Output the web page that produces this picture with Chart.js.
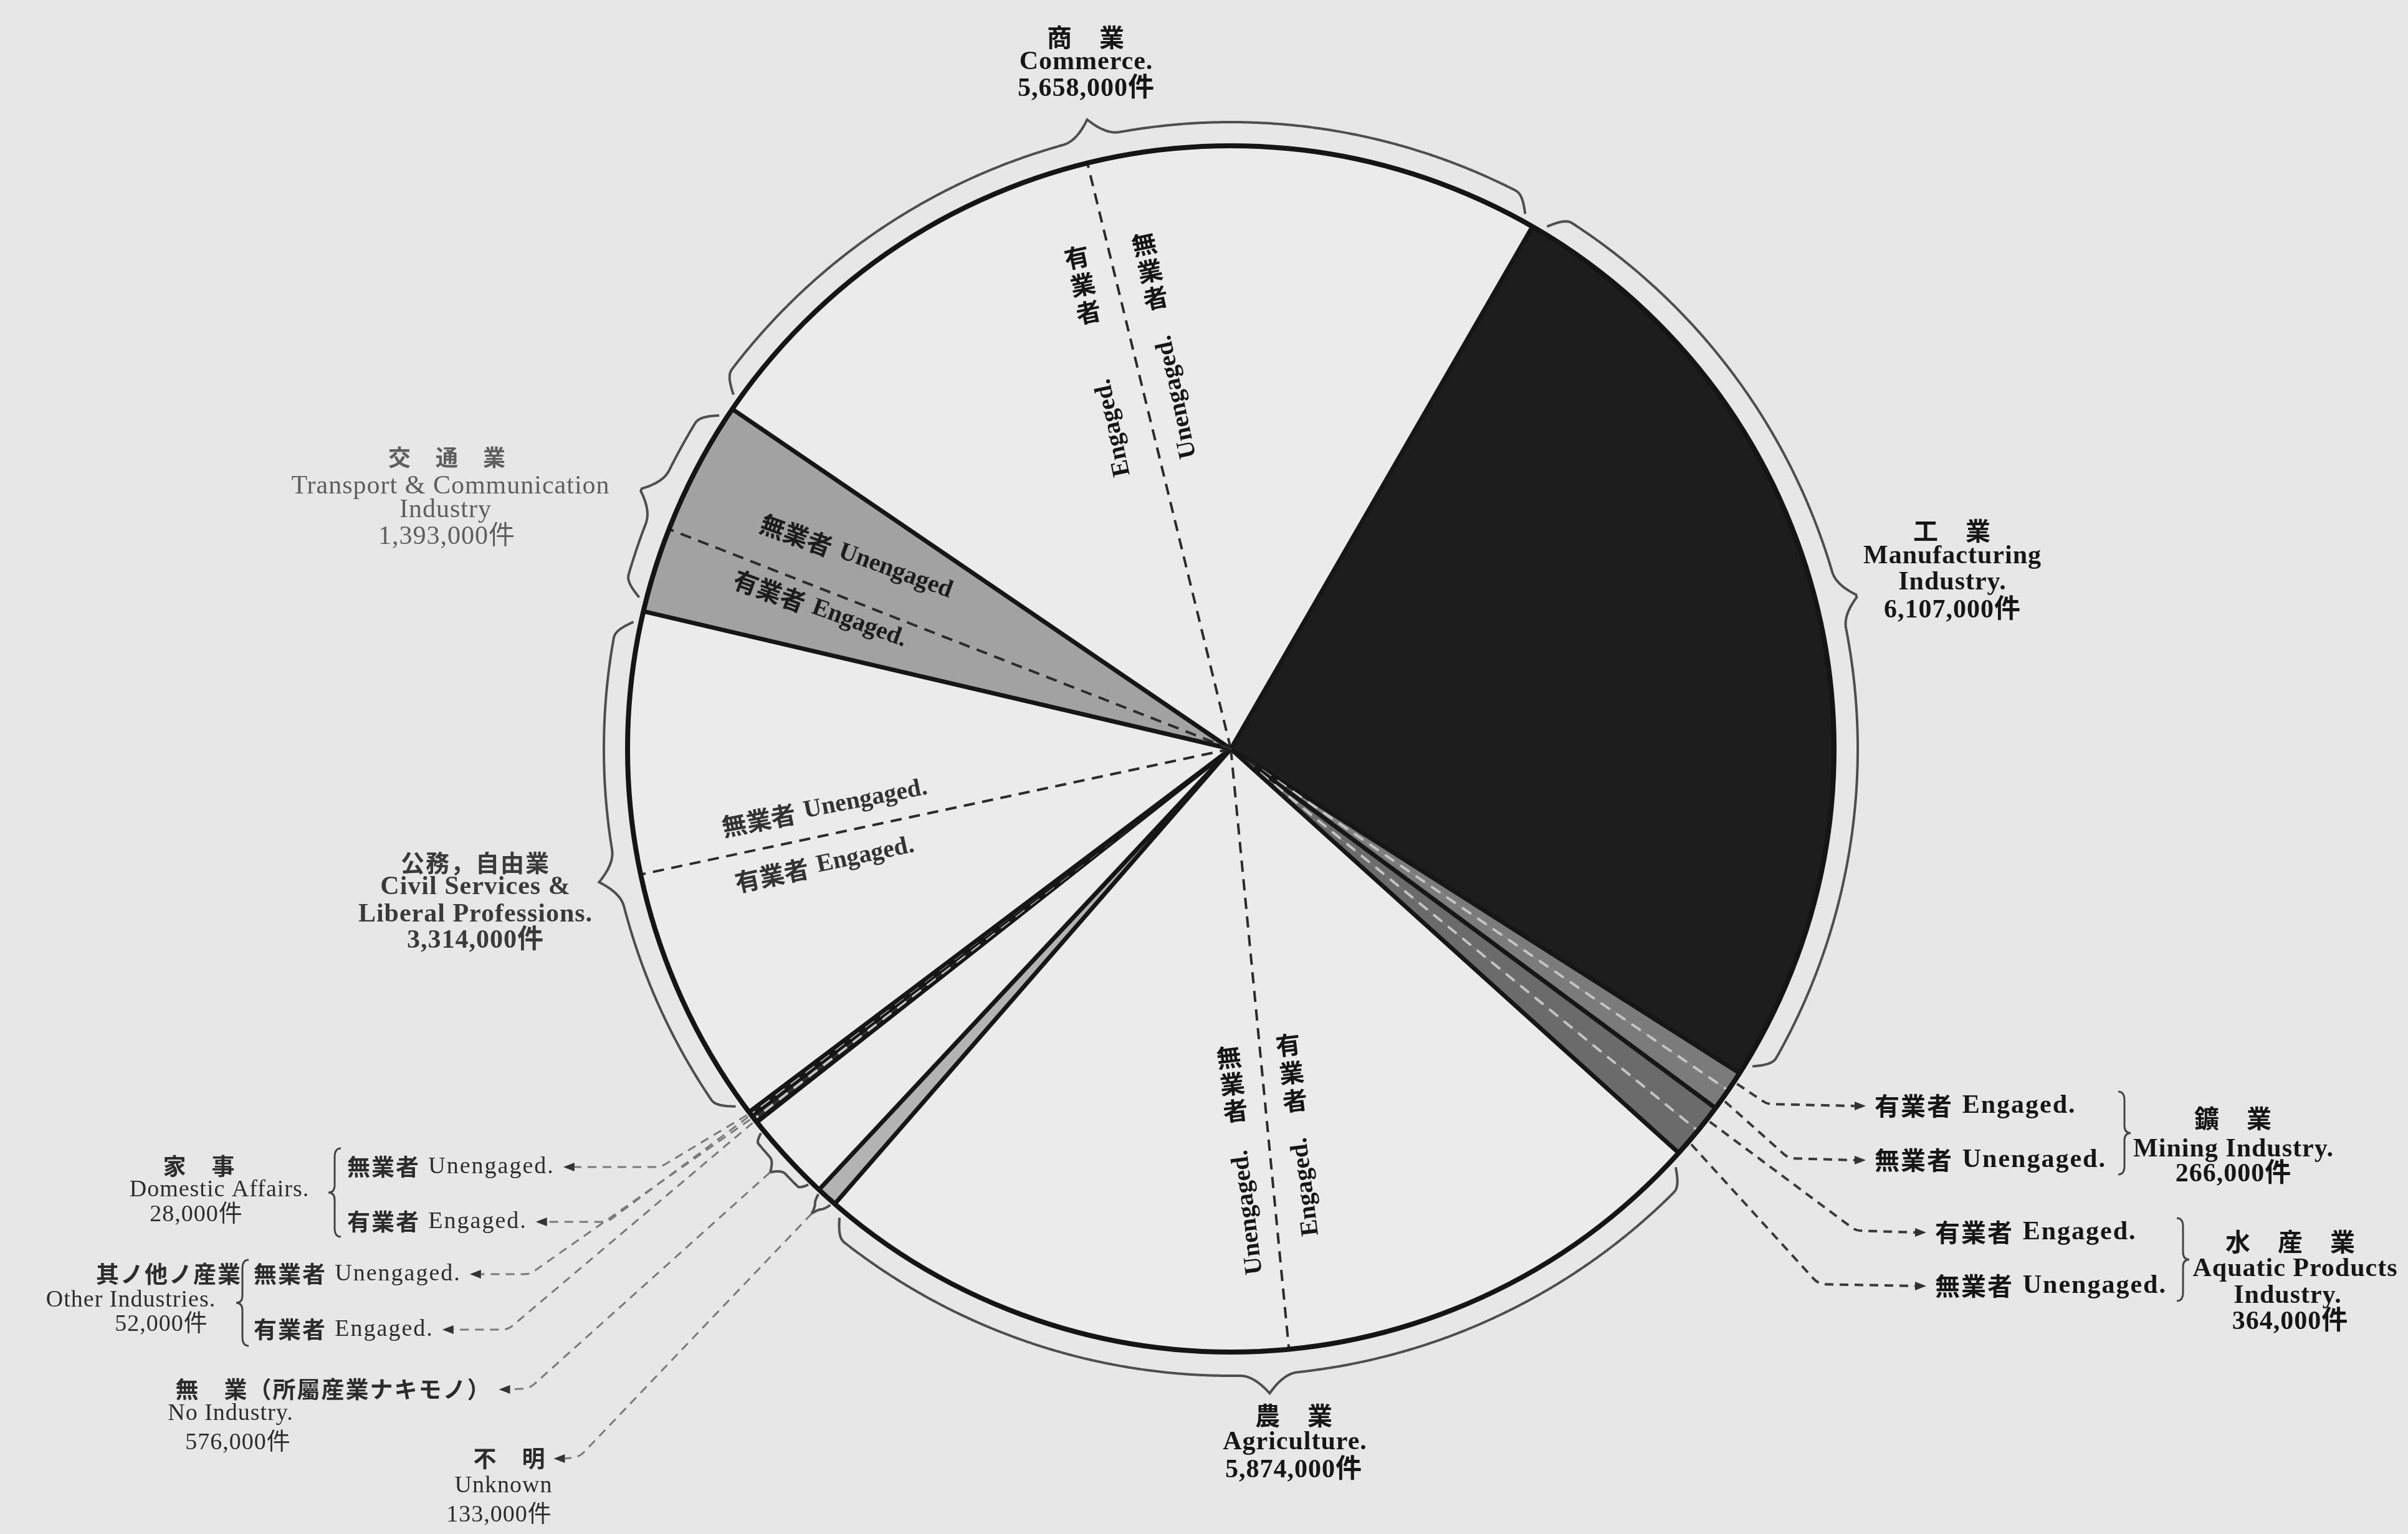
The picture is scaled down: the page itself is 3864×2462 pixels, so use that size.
<!DOCTYPE html>
<html>
<head>
<meta charset="utf-8">
<script src="https://cdn.jsdelivr.net/npm/chart.js@4.4.1/dist/chart.umd.min.js"></script>
<style>
  html, body { margin: 0; padding: 0; background: #e7e7e7; }
  canvas { display: block; }
</style>
</head>
<body>
<canvas id="pie-chart" width="3864" height="2462" style="width:3864px;height:2462px"></canvas>
<script>
// population by industry, thousands of 件, clockwise from Commerce
const categoryEn = ["Commerce", "Manufacturing Industry", "Mining Industry", "Aquatic Products Industry", "Agriculture", "Unknown", "No Industry", "Other Industries", "Domestic Affairs", "Civil Services & Liberal Professions", "Transport & Communication Industry"];
const categoryJa = ["商　業", "工　業", "鑛　業", "水　産　業", "農　業", "不　明", "無　業（所屬産業ナキモノ）", "其ノ他ノ産業", "家　事", "公務，自由業", "交　通　業"];
const labelLinesEn = [["Commerce."], ["Manufacturing", "Industry."], ["Mining Industry."], ["Aquatic Products", "Industry."], ["Agriculture."], ["Unknown"], ["No Industry."], ["Other Industries."], ["Domestic Affairs."], ["Civil Services &", "Liberal Professions."], ["Transport & Communication", "Industry"]];
const totals = [5658, 6107, 266, 364, 5874, 133, 576, 52, 28, 3314, 1393];
const engaged = [2770, null, 130, 180, 2800, null, null, 26, 14, 1650, 540];
const unengaged = [2888, null, 136, 184, 3074, null, null, 26, 14, 1664, 853];
const partText = { engaged: ["有業者", "Engaged."], unengaged: ["無業者", "Unengaged."] };

// styles
const fills = ["#ebebeb", "#1d1d1d", "#7b7b7b", "#6b6b6b", "#ebebeb", "#b3b3b3", "#ebebeb", "#242424", "#242424", "#ebebeb", "#a2a2a2"];
const darkFill = [false, true, true, true, false, false, false, true, true, false, false];
const EN = '"Liberation Serif", "Noto Sans CJK JP", serif';
const CJK = '"Noto Sans CJK JP", sans-serif';
const deg = Math.PI / 180;

// split categories into engaged / unengaged slices
const sliceValues = [];
const sliceCat = [];
const sliceParts = [];
const sliceLabels = [];
categoryEn.forEach((name, i) => {
  if (engaged[i] != null) {
    sliceValues.push(engaged[i], unengaged[i]);
    sliceCat.push(i, i);
    sliceParts.push("engaged", "unengaged");
    sliceLabels.push(name + " Engaged", name + " Unengaged");
  } else {
    sliceValues.push(totals[i]);
    sliceCat.push(i);
    sliceParts.push(null);
    sliceLabels.push(name);
  }
});

// label layout
const bigStyle = { weight: "bold", size: 42, ja: 40, color: "#161616" };
const smallStyle = { weight: "normal", size: 38, ja: 37, color: "#2c2c2c" };
const titleLayout = {
  0: { lines: [[1743, 60], [1743, 100], [1743, 143]], st: bigStyle },
  1: { lines: [[3133, 852], [3133, 893], [3133, 935], [3133, 980]], st: bigStyle },
  2: { lines: [[3584, 1795], [3584, 1845], [3584, 1885]], st: bigStyle },
  3: { lines: [[3676, 1993], [3683, 2037], [3671, 2080], [3675, 2122]], st: bigStyle },
  4: { lines: [[2077, 2272], [2078, 2315], [2076, 2360]], st: bigStyle },
  5: { lines: [[818, 2341], [808, 2385], [801, 2432]], st: smallStyle },
  6: { lines: [[535, 2230], [370, 2269], [382, 2316]], st: smallStyle },
  7: { lines: [[271, 2045], [210, 2087], [259, 2126]], st: smallStyle },
  8: { lines: [[320, 1872], [352, 1910], [315, 1950]], st: smallStyle },
  9: { lines: [[763, 1385], [763, 1424], [763, 1468], [763, 1510]], st: { weight: "bold", size: 42, ja: 38, color: "#3a3a3a" } },
  10: { lines: [[718, 734], [723, 781], [715, 819], [717, 862]], st: { weight: "normal", size: 42, ja: 36, color: "#5e5e5e" } },
};
const partLayout = [
  { cat: 2, part: "engaged", x: 3008, y: 1775, side: 1, corner: [2836, 1772], st: bigStyle },
  { cat: 2, part: "unengaged", x: 3008, y: 1862, side: 1, corner: [2870, 1859], st: bigStyle },
  { cat: 3, part: "engaged", x: 3105, y: 1978, side: 1, corner: [2978, 1975], st: bigStyle },
  { cat: 3, part: "unengaged", x: 3105, y: 2064, side: 1, corner: [2918, 2061], st: bigStyle },
  { cat: 8, part: "unengaged", x: 557, y: 1873, side: -1, corner: [1060, 1873], st: smallStyle },
  { cat: 8, part: "engaged", x: 557, y: 1961, side: -1, corner: [975, 1961], st: smallStyle },
  { cat: 7, part: "unengaged", x: 407, y: 2045, side: -1, corner: [850, 2045], st: smallStyle },
  { cat: 7, part: "engaged", x: 407, y: 2134, side: -1, corner: [815, 2134], st: smallStyle },
];
const groupBraces = [[3409, 1752, 1885, 1], [3503, 1955, 2088, 1], [537, 1843, 1985, -1], [389, 2022, 2160, -1]];
const catLeaders = [
  { cat: 6, y: 2230, corner: [850, 2228] },
  { cat: 5, y: 2341, corner: [930, 2338] },
];
const inPieRotated = [
  { cat: 10, part: "unengaged", x: 1374, y: 894, rot: 20, color: "#1c1c1c", text: "Unengaged" },
  { cat: 10, part: "engaged", x: 1316, y: 978, rot: 20, color: "#1c1c1c" },
  { cat: 9, part: "unengaged", x: 1323, y: 1296, rot: -11, color: "#333" },
  { cat: 9, part: "engaged", x: 1323, y: 1387, rot: -12, color: "#333" },
];
const inPieColumns = [
  { cat: 0, part: "engaged", x: 1728, y: 413, tilt: 12, step: 45, gap: 200 },
  { cat: 0, part: "unengaged", x: 1836, y: 392, tilt: 12, step: 44, gap: 150 },
  { cat: 4, part: "unengaged", x: 1972, y: 1697, tilt: 7, step: 43, gap: 150 },
  { cat: 4, part: "engaged", x: 2067, y: 1677, tilt: 7, step: 45, gap: 150 },
];
const braceCats = [0, 1, 4, 5, 6, 9, 10];

function radialBrace(ctx, cx, cy, R, a1, a2, o) {
  const L = (a2 - a1) * R;
  const h = Math.min(o.hook, L / 4);
  const h2 = Math.min(o.cusp, L / 3);
  const n = Math.max(40, Math.round(L / 4));
  ctx.beginPath();
  for (let k = 0; k <= n; k++) {
    const s = (L * k) / n;
    const e = Math.min(s, L - s);
    let off = o.base;
    if (e < h) off = o.end + (o.base - o.end) * Math.sin((Math.PI / 2) * (e / h));
    const d = Math.abs(s - L / 2);
    if (d < h2) off += o.tip * Math.pow(1 - d / h2, 2);
    const a = a1 + s / R;
    const px = cx + (R + off) * Math.cos(a);
    const py = cy + (R + off) * Math.sin(a);
    if (k === 0) ctx.moveTo(px, py);
    else ctx.lineTo(px, py);
  }
  ctx.stroke();
}

function vBrace(ctx, x, y1, y2, dir) {
  const ym = (y1 + y2) / 2;
  const w = 10 * dir;
  ctx.beginPath();
  ctx.moveTo(x - w, y1);
  ctx.quadraticCurveTo(x, y1, x, y1 + 14);
  ctx.lineTo(x, ym - 12);
  ctx.quadraticCurveTo(x, ym, x + w, ym);
  ctx.quadraticCurveTo(x, ym, x, ym + 12);
  ctx.lineTo(x, y2 - 14);
  ctx.quadraticCurveTo(x, y2, x - w, y2);
  ctx.stroke();
}

function leader(ctx, pts) {
  ctx.beginPath();
  ctx.moveTo(pts[0][0], pts[0][1]);
  for (let k = 1; k < pts.length - 1; k++) {
    ctx.arcTo(pts[k][0], pts[k][1], pts[k + 1][0], pts[k + 1][1], 26);
  }
  ctx.lineTo(pts[pts.length - 1][0], pts[pts.length - 1][1]);
  ctx.stroke();
}

function arrowHead(ctx, x, y, dir) {
  ctx.beginPath();
  ctx.moveTo(x, y);
  ctx.lineTo(x - dir * 18, y - 7);
  ctx.lineTo(x - dir * 18, y + 7);
  ctx.closePath();
  ctx.fill();
}

function drawPartLabel(ctx, x, y, cjk, en, st) {
  ctx.textAlign = "left";
  ctx.textBaseline = "middle";
  ctx.fillStyle = st.color;
  ctx.letterSpacing = "2px";
  ctx.font = `bold ${st.ja}px ${CJK}`;
  ctx.fillText(cjk, x, y);
  const w = ctx.measureText(cjk).width + st.size * 0.35;
  ctx.font = `${st.weight} ${st.size}px ${EN}`;
  ctx.fillText(en, x + w, y);
  const end = x + w + ctx.measureText(en).width;
  ctx.letterSpacing = "0px";
  return end;
}

const pieOverlay = {
  id: "pieOverlay",
  afterDatasetsDraw(chart) {
    const ctx = chart.ctx;
    const arcs = chart.getDatasetMeta(0).data;
    const { x: cx, y: cy, outerRadius: R } = arcs[0].getProps(["x", "y", "outerRadius"], true);
    const pt = (a, r) => [cx + r * Math.cos(a), cy + r * Math.sin(a)];

    const ranges = categoryEn.map(() => ({ start: null, end: null }));
    const partMid = {};
    arcs.forEach((arc, i) => {
      const { startAngle, endAngle } = arc.getProps(["startAngle", "endAngle"], true);
      const c = sliceCat[i];
      if (ranges[c].start === null) ranges[c].start = startAngle;
      ranges[c].end = endAngle;
      if (sliceParts[i]) partMid[c + ":" + sliceParts[i]] = (startAngle + endAngle) / 2;
    });

    ctx.save();
    // radial boundaries: solid between industries, dashed between engaged / unengaged
    arcs.forEach((arc, i) => {
      const { startAngle } = arc.getProps(["startAngle"], true);
      const [ex, ey] = pt(startAngle, R);
      ctx.beginPath();
      ctx.moveTo(cx, cy);
      ctx.lineTo(ex, ey);
      if (sliceParts[i] === "unengaged") {
        ctx.setLineDash([18, 12]);
        ctx.lineWidth = 4;
        ctx.strokeStyle = darkFill[sliceCat[i]] ? "#c4c4c4" : "#2b2b2b";
      } else {
        ctx.setLineDash([]);
        ctx.lineWidth = 7;
        ctx.strokeStyle = "#161616";
      }
      ctx.stroke();
    });
    ctx.setLineDash([]);
    ctx.lineWidth = 8;
    ctx.strokeStyle = "#151515";
    ctx.beginPath();
    ctx.arc(cx, cy, R, 0, Math.PI * 2);
    ctx.stroke();

    // braces round the rim
    ctx.strokeStyle = "#4e4e4e";
    ctx.lineWidth = 4;
    const braceTip = {};
    braceCats.forEach((c) => {
      const L = (ranges[c].end - ranges[c].start) * R;
      const inset = Math.min(20, L * 0.12) / R;
      const o = L > 200
        ? { base: 38, tip: 30, end: 12, hook: 30, cusp: 45 }
        : { base: 20, tip: 16, end: 6, hook: 10, cusp: 18 };
      radialBrace(ctx, cx, cy, R, ranges[c].start + inset, ranges[c].end - inset, o);
      braceTip[c] = pt((ranges[c].start + ranges[c].end) / 2, R + o.base + o.tip);
    });

    // leaders and sub-labels outside the pie
    partLayout.forEach((p) => {
      const [cjk, en] = partText[p.part];
      const start = pt(partMid[p.cat + ":" + p.part], R + 6);
      ctx.setLineDash([]);
      let tipX;
      if (p.side > 0) {
        drawPartLabel(ctx, p.x, p.y, cjk, en, p.st);
        tipX = p.x - 14;
      } else {
        tipX = drawPartLabel(ctx, p.x, p.y, cjk, en, p.st) + 14;
      }
      ctx.fillStyle = "#333";
      arrowHead(ctx, tipX, p.y, p.side);
      ctx.strokeStyle = p.side > 0 ? "#3a3a3a" : "#7a7a7a";
      ctx.lineWidth = p.side > 0 ? 4 : 3;
      ctx.setLineDash([14, 10]);
      leader(ctx, [start, p.corner, [tipX - p.side * 18, p.y]]);
      ctx.setLineDash([]);
    });

    // leaders from small braces to their titles
    catLeaders.forEach((l) => {
      const lay = titleLayout[l.cat];
      ctx.font = `bold ${lay.st.ja}px ${CJK}`;
      ctx.letterSpacing = "2px";
      const w = ctx.measureText(categoryJa[l.cat]).width;
      ctx.letterSpacing = "0px";
      const tipX = lay.lines[0][0] + w / 2 + 12;
      ctx.fillStyle = "#333";
      arrowHead(ctx, tipX, l.y, -1);
      ctx.strokeStyle = "#7a7a7a";
      ctx.lineWidth = 3;
      ctx.setLineDash([14, 10]);
      leader(ctx, [braceTip[l.cat], l.corner, [tipX + 18, l.y]]);
      ctx.setLineDash([]);
    });

    ctx.strokeStyle = "#444";
    ctx.lineWidth = 3;
    groupBraces.forEach(([x, y1, y2, dir]) => vBrace(ctx, x, y1, y2, dir));

    // industry titles
    Object.keys(titleLayout).forEach((key) => {
      const c = Number(key);
      const lay = titleLayout[c];
      const st = lay.st;
      const texts = [categoryJa[c], ...labelLinesEn[c], (totals[c] * 1000).toLocaleString("en-US") + "件"];
      ctx.textAlign = "center";
      ctx.textBaseline = "middle";
      ctx.fillStyle = st.color;
      texts.forEach((txt, k) => {
        const [x, y] = lay.lines[k];
        ctx.font = k === 0 ? `bold ${st.ja}px ${CJK}` : `${st.weight} ${st.size}px ${EN}`;
        ctx.letterSpacing = k === 0 ? "2px" : "1px";
        ctx.fillText(txt, x, y);
      });
      ctx.letterSpacing = "0px";
    });

    // labels inside slices
    inPieRotated.forEach((o) => {
      const cjk = partText[o.part][0];
      const en = o.text || partText[o.part][1];
      ctx.save();
      ctx.translate(o.x, o.y);
      ctx.rotate(o.rot * deg);
      ctx.font = `bold 40px ${CJK}`;
      const w1 = ctx.measureText(cjk).width;
      ctx.font = `bold 40px ${EN}`;
      const w2 = ctx.measureText(en).width;
      const gap = 14;
      const x0 = -(w1 + gap + w2) / 2;
      ctx.fillStyle = o.color;
      ctx.textAlign = "left";
      ctx.textBaseline = "middle";
      ctx.font = `bold 40px ${CJK}`;
      ctx.fillText(cjk, x0, 0);
      ctx.font = `bold 40px ${EN}`;
      ctx.fillText(en, x0 + w1 + gap, 0);
      ctx.restore();
    });

    inPieColumns.forEach((o) => {
      const [cjk, en] = partText[o.part];
      const t = o.tilt * deg;
      const dx = Math.sin(t);
      const dy = Math.cos(t);
      ctx.fillStyle = "#161616";
      ctx.textAlign = "center";
      ctx.textBaseline = "middle";
      ctx.font = `bold 40px ${CJK}`;
      [...cjk].forEach((ch, k) => {
        ctx.save();
        ctx.translate(o.x + dx * o.step * k, o.y + dy * o.step * k);
        ctx.rotate(-t);
        ctx.fillText(ch, 0, 0);
        ctx.restore();
      });
      ctx.save();
      ctx.translate(o.x + dx * o.gap, o.y + dy * o.gap);
      ctx.rotate(-(Math.PI / 2 + t));
      ctx.font = `bold 40px ${EN}`;
      ctx.textAlign = "right";
      ctx.fillText(en, 0, 0);
      ctx.restore();
    });

    ctx.restore();
  },
};

const ctx = document.getElementById("pie-chart").getContext("2d");
const chart = new Chart(ctx, {
  type: "pie",
  data: {
    labels: sliceLabels,
    datasets: [
      {
        data: sliceValues,
        backgroundColor: sliceCat.map((c) => fills[c]),
        borderWidth: 0,
        hoverOffset: 0,
      },
    ],
  },
  options: {
    responsive: false,
    animation: false,
    devicePixelRatio: 1,
    events: [],
    rotation: -55.71,
    layout: {
      padding: { left: 1007, right: 921, top: 234, bottom: 292 },
    },
    plugins: {
      legend: { display: false },
      tooltip: { enabled: false },
    },
  },
  plugins: [pieOverlay],
});
</script>
</body>
</html>
